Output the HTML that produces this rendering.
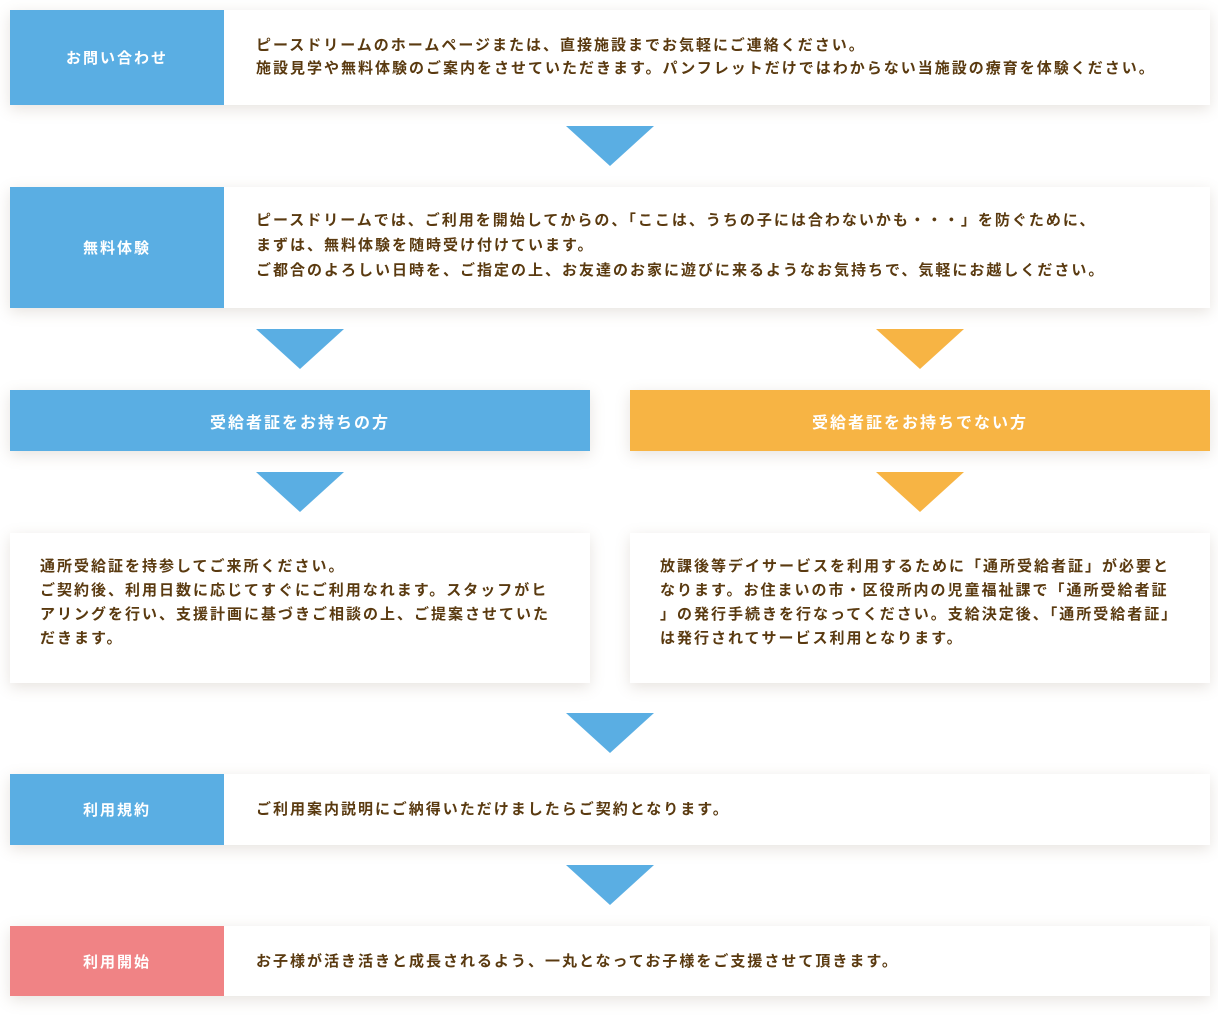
<!DOCTYPE html>
<html><head><meta charset="utf-8"><style>
body{margin:0;width:1218px;height:1019px;background:#fff;position:relative;overflow:hidden;font-family:"Liberation Sans","Noto Sans CJK JP",sans-serif;font-weight:bold;color:#5a3a10}
.b{position:absolute;background:#fff;box-shadow:0 4px 14px rgba(120,100,80,.18)}
.l{position:absolute;left:0;top:0;bottom:0;width:214px;color:#fff;display:flex;align-items:center;justify-content:center;font-size:15px;letter-spacing:2px}
.t{position:absolute;font-size:15px;letter-spacing:2px;white-space:nowrap}
.a{position:absolute;width:0;height:0;border-left:44px solid transparent;border-right:44px solid transparent;border-top:40px solid #5aaee3}
.o{border-top-color:#f7b444}
.h{position:absolute;color:#fff;font-size:16px;letter-spacing:2px;display:flex;align-items:center;justify-content:center;box-shadow:0 4px 14px rgba(120,100,80,.18)}
</style></head><body>
<div class="b" style="left:10px;top:10px;width:1200px;height:95px"><div class="l" style="background:#5aaee3">お問い合わせ</div>
<div class="t" style="left:246px;top:24px;line-height:23px">ピースドリームのホームページまたは、直接施設までお気軽にご連絡ください。<br>施設見学や無料体験のご案内をさせていただきます。パンフレットだけではわからない当施設の療育を体験ください。</div></div>
<div class="a" style="left:566px;top:126px"></div>
<div class="b" style="left:10px;top:187px;width:1200px;height:121px"><div class="l" style="background:#5aaee3">無料体験</div>
<div class="t" style="left:246px;top:21px;line-height:25px">ピースドリームでは、ご利用を開始してからの、「ここは、うちの子には合わないかも・・・」を防ぐために、<br>まずは、無料体験を随時受け付けています。<br>ご都合のよろしい日時を、ご指定の上、お友達のお家に遊びに来るようなお気持ちで、気軽にお越しください。</div></div>
<div class="a" style="left:256px;top:329px"></div>
<div class="a o" style="left:876px;top:329px"></div>
<div class="h" style="left:10px;top:390px;width:580px;height:61px;background:#5aaee3">受給者証をお持ちの方</div>
<div class="h" style="left:630px;top:390px;width:580px;height:61px;background:#f7b444">受給者証をお持ちでない方</div>
<div class="a" style="left:256px;top:472px"></div>
<div class="a o" style="left:876px;top:472px"></div>
<div class="b" style="left:10px;top:533px;width:580px;height:150px"><div class="t" style="left:30px;top:22px;line-height:24px">通所受給証を持参してご来所ください。<br>ご契約後、利用日数に応じてすぐにご利用なれます。スタッフがヒ<br>アリングを行い、支援計画に基づきご相談の上、ご提案させていた<br>だきます。</div></div>
<div class="b" style="left:630px;top:533px;width:580px;height:150px"><div class="t" style="left:30px;top:22px;line-height:24px">放課後等デイサービスを利用するために「通所受給者証」が必要と<br>なります。お住まいの市・区役所内の児童福祉課で「通所受給者証<br>」の発行手続きを行なってください。支給決定後、「通所受給者証」<br>は発行されてサービス利用となります。</div></div>
<div class="a" style="left:566px;top:713px"></div>
<div class="b" style="left:10px;top:774px;width:1200px;height:71px"><div class="l" style="background:#5aaee3">利用規約</div>
<div class="t" style="left:246px;top:24px;line-height:23px">ご利用案内説明にご納得いただけましたらご契約となります。</div></div>
<div class="a" style="left:566px;top:865px"></div>
<div class="b" style="left:10px;top:926px;width:1200px;height:70px"><div class="l" style="background:#f08385">利用開始</div>
<div class="t" style="left:246px;top:24px;line-height:23px">お子様が活き活きと成長されるよう、一丸となってお子様をご支援させて頂きます。</div></div>
</body></html>
